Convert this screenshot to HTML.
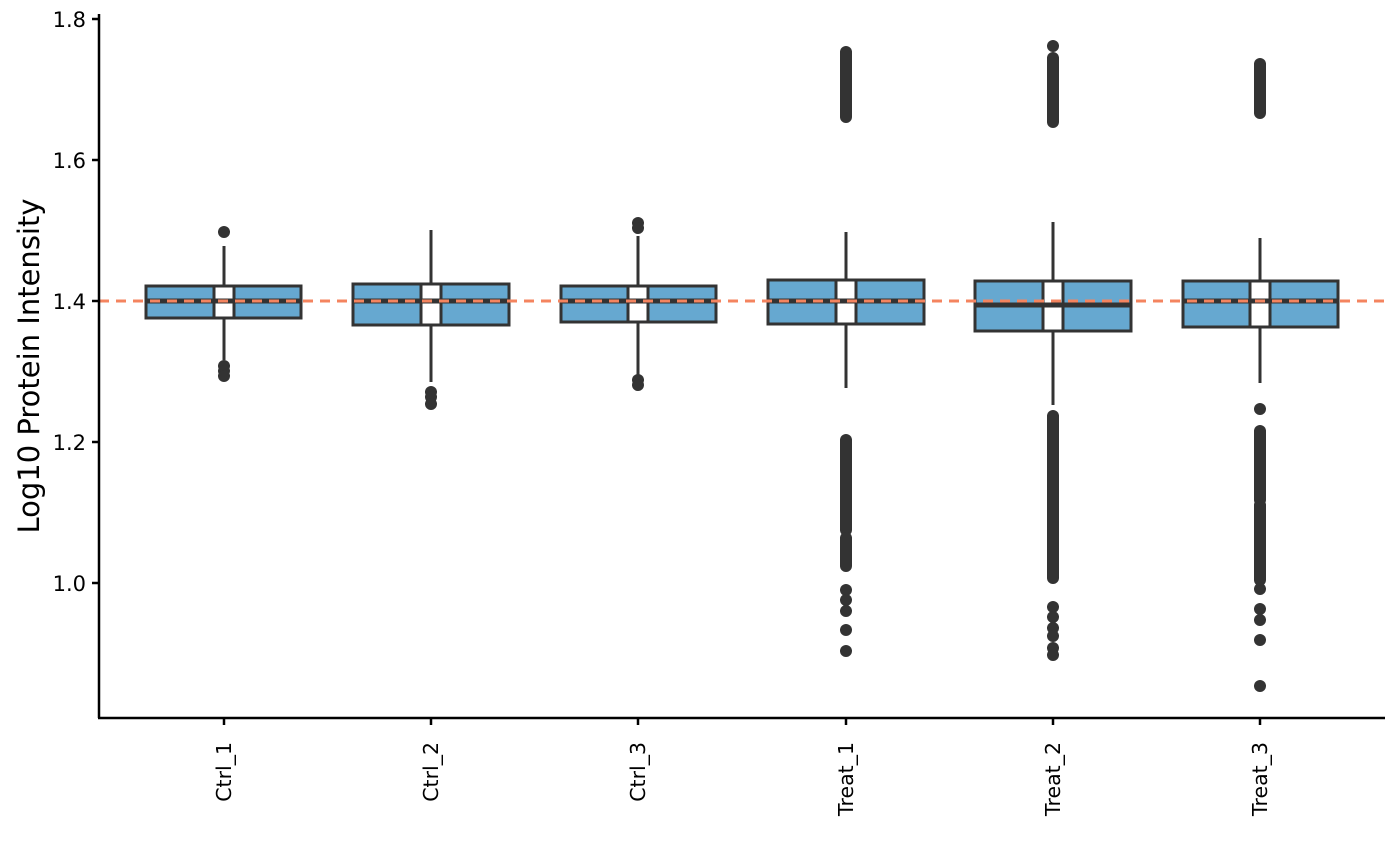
<!DOCTYPE html>
<html><head><meta charset="utf-8"><style>
html,body{margin:0;padding:0;background:#fff;}
svg{display:block;font-family:"DejaVu Sans","Liberation Sans",sans-serif;}
</style></head><body>
<svg width="1400" height="865" viewBox="0 0 1400 865" xmlns="http://www.w3.org/2000/svg">
<rect width="1400" height="865" fill="#fff"/>
<g stroke="#333" stroke-width="3" fill="none">
<line x1="224" y1="246" x2="224" y2="360"/>
<line x1="431" y1="230" x2="431" y2="382"/>
<line x1="638" y1="236" x2="638" y2="375"/>
<line x1="846" y1="232" x2="846" y2="388"/>
<line x1="1053" y1="222" x2="1053" y2="405"/>
<line x1="1260" y1="238" x2="1260" y2="383"/>
</g>
<g stroke="#333" stroke-width="3" fill="#66a8d0">
<rect x="146" y="286" width="155" height="32"/>
<rect x="353" y="284" width="156" height="41"/>
<rect x="561" y="286" width="155" height="36"/>
<rect x="768" y="280" width="156" height="44"/>
<rect x="975" y="281" width="156" height="50"/>
<rect x="1183" y="281" width="155" height="46"/>
</g>
<g stroke="#333" stroke-width="3" fill="#fff">
<rect x="214" y="286" width="20" height="32"/>
<rect x="421" y="284" width="20" height="41"/>
<rect x="628" y="286" width="20" height="36"/>
<rect x="836" y="280" width="20" height="44"/>
<rect x="1043" y="281" width="20" height="50"/>
<rect x="1250" y="281" width="20" height="46"/>
</g>
<g stroke="#333" stroke-width="5">
<line x1="146" y1="301" x2="301" y2="301"/>
<line x1="353" y1="301" x2="509" y2="301"/>
<line x1="561" y1="301" x2="716" y2="301"/>
<line x1="768" y1="301" x2="924" y2="301"/>
<line x1="975" y1="305" x2="1131" y2="305"/>
<line x1="1183" y1="301" x2="1338" y2="301"/>
</g>
<g fill="#333">
<circle cx="224" cy="232" r="6"/><circle cx="224" cy="366" r="6"/><circle cx="224" cy="371" r="6"/><circle cx="224" cy="376" r="6"/>
<circle cx="431" cy="392" r="6"/><circle cx="431" cy="397" r="6"/><circle cx="431" cy="404" r="6"/>
<circle cx="638" cy="223" r="6"/><circle cx="638" cy="228" r="6"/><circle cx="638" cy="380" r="6"/><circle cx="638" cy="385" r="6"/>
<circle cx="846" cy="590" r="6"/><circle cx="846" cy="600" r="6"/><circle cx="846" cy="611" r="6"/><circle cx="846" cy="630" r="6"/><circle cx="846" cy="651" r="6"/>
<circle cx="1053" cy="46" r="6"/><circle cx="1053" cy="607" r="6"/><circle cx="1053" cy="617" r="6"/><circle cx="1053" cy="628" r="6"/><circle cx="1053" cy="636" r="6"/><circle cx="1053" cy="648" r="6"/><circle cx="1053" cy="655" r="6"/>
<circle cx="1260" cy="409" r="6"/><circle cx="1260" cy="589" r="6"/><circle cx="1260" cy="609" r="6"/><circle cx="1260" cy="620" r="6"/><circle cx="1260" cy="640" r="6"/><circle cx="1260" cy="686" r="6"/>
</g>
<g stroke="#333" stroke-width="12" stroke-linecap="round">
<line x1="846" y1="52" x2="846" y2="117"/>
<line x1="846" y1="440" x2="846" y2="530"/>
<line x1="846" y1="538" x2="846" y2="566"/>
<line x1="1053" y1="58" x2="1053" y2="122"/>
<line x1="1053" y1="416" x2="1053" y2="578"/>
<line x1="1260" y1="64" x2="1260" y2="113"/>
<line x1="1260" y1="431" x2="1260" y2="500"/>
<line x1="1260" y1="505" x2="1260" y2="580"/>
</g>
<line x1="99" y1="301" x2="1385" y2="301" stroke="#f4845f" stroke-width="3" stroke-dasharray="10,7"/>
<g stroke="#000" stroke-width="2.5">
<line x1="99" y1="14" x2="99" y2="718"/>
<line x1="98" y1="718" x2="1385" y2="718"/>
<line x1="92" y1="19" x2="99" y2="19"/>
<line x1="92" y1="160" x2="99" y2="160"/>
<line x1="92" y1="301" x2="99" y2="301"/>
<line x1="92" y1="442" x2="99" y2="442"/>
<line x1="92" y1="583" x2="99" y2="583"/>
<line x1="224" y1="718" x2="224" y2="725"/>
<line x1="431" y1="718" x2="431" y2="725"/>
<line x1="638" y1="718" x2="638" y2="725"/>
<line x1="846" y1="718" x2="846" y2="725"/>
<line x1="1053" y1="718" x2="1053" y2="725"/>
<line x1="1260" y1="718" x2="1260" y2="725"/>
</g>
<g font-size="21" fill="#000" text-anchor="end">
<text x="86" y="27">1.8</text>
<text x="86" y="168">1.6</text>
<text x="86" y="309">1.4</text>
<text x="86" y="450">1.2</text>
<text x="86" y="591">1.0</text>
</g>
<g font-size="20.5" fill="#000" text-anchor="end">
<text transform="translate(231,742) rotate(-90)">Ctrl_1</text>
<text transform="translate(438,742) rotate(-90)">Ctrl_2</text>
<text transform="translate(645,742) rotate(-90)">Ctrl_3</text>
<text transform="translate(853,742) rotate(-90)">Treat_1</text>
<text transform="translate(1060,742) rotate(-90)">Treat_2</text>
<text transform="translate(1267,742) rotate(-90)">Treat_3</text>
</g>
<text transform="translate(39,366) rotate(-90)" font-size="29" text-anchor="middle" fill="#000">Log10 Protein Intensity</text>
</svg>
</body></html>
